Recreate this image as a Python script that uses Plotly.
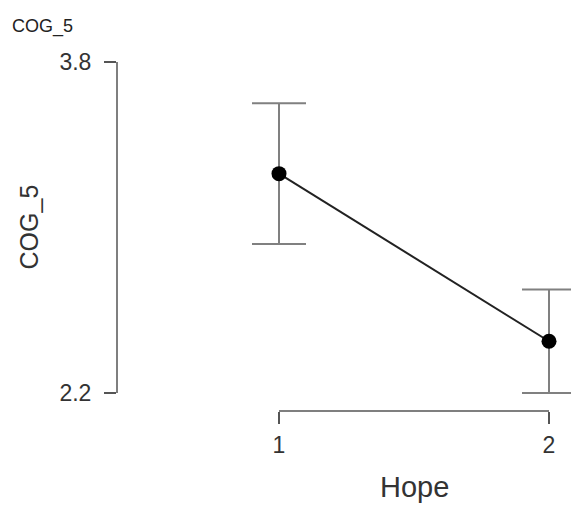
import plotly.graph_objects as go

# Data
categories = [1, 2]
means = [3.26, 2.45]
err = [0.34, 0.25]
y_ticks = [2.2, 3.8]
x_ticks = [1, 2]
chart_title = "COG_5"
y_title = "COG_5"
x_title = "Hope"

FONT = "Liberation Sans, Arial, sans-serif"
AX = "#555555"

fig = go.Figure()
fig.add_trace(go.Scatter(
    x=categories, y=means,
    mode="lines+markers",
    line=dict(color="#222222", width=2),
    marker=dict(color="black", size=15),
    error_y=dict(type="data", array=err, visible=True,
                 color="#808080", thickness=2, width=27),
    showlegend=False,
    cliponaxis=True,
))

# axis lines spanning only data range (R bty="n" style)
fig.add_shape(type="line", xref="paper", yref="y", x0=0, x1=0,
              y0=y_ticks[0], y1=y_ticks[-1], line=dict(color=AX, width=1.5))
fig.add_shape(type="line", xref="x", yref="paper", x0=x_ticks[0], x1=x_ticks[-1],
              y0=0, y1=0, line=dict(color=AX, width=1.5))

fig.update_layout(
    width=571, height=505,
    margin=dict(l=117, r=0, t=40, b=94),
    plot_bgcolor="white", paper_bgcolor="white",
    font=dict(family=FONT, color="#333333"),
    xaxis=dict(range=[0.4, 2.0815], showgrid=False, zeroline=False, showline=False,
               tickmode="array", tickvals=x_ticks, ticktext=[str(v) for v in x_ticks],
               ticks="outside", ticklen=12, tickwidth=1.5, tickcolor=AX,
               tickfont=dict(size=23, family=FONT, color="#333333"),
               ticklabelstandoff=1),
    yaxis=dict(range=[2.113, 3.906], showgrid=False, zeroline=False, showline=False,
               tickmode="array", tickvals=y_ticks, ticktext=[f"{v:.1f}" for v in y_ticks],
               ticks="outside", ticklen=12, tickwidth=1.5, tickcolor=AX,
               tickfont=dict(size=23, family=FONT, color="#333333"),
               ticklabelstandoff=8),
    annotations=[
        dict(text=chart_title, xref="paper", yref="paper", x=-107/454, y=1 + 13/371,
             xanchor="left", yanchor="middle", showarrow=False,
             font=dict(size=18, family=FONT, color="#222222")),
        dict(text=y_title, xref="paper", yref="y", x=-88/454, y=3.0,
             xanchor="center", yanchor="middle", textangle=-90, showarrow=False,
             font=dict(size=25, family=FONT, color="#333333")),
        dict(text=x_title, xref="x", yref="paper", x=1.5, y=-76/371,
             xanchor="center", yanchor="middle", showarrow=False,
             font=dict(size=29, family=FONT, color="#333333")),
    ],
)

fig.write_html("out.html", config={"displayModeBar": False},
               post_script="document.body.style.margin='0';")
